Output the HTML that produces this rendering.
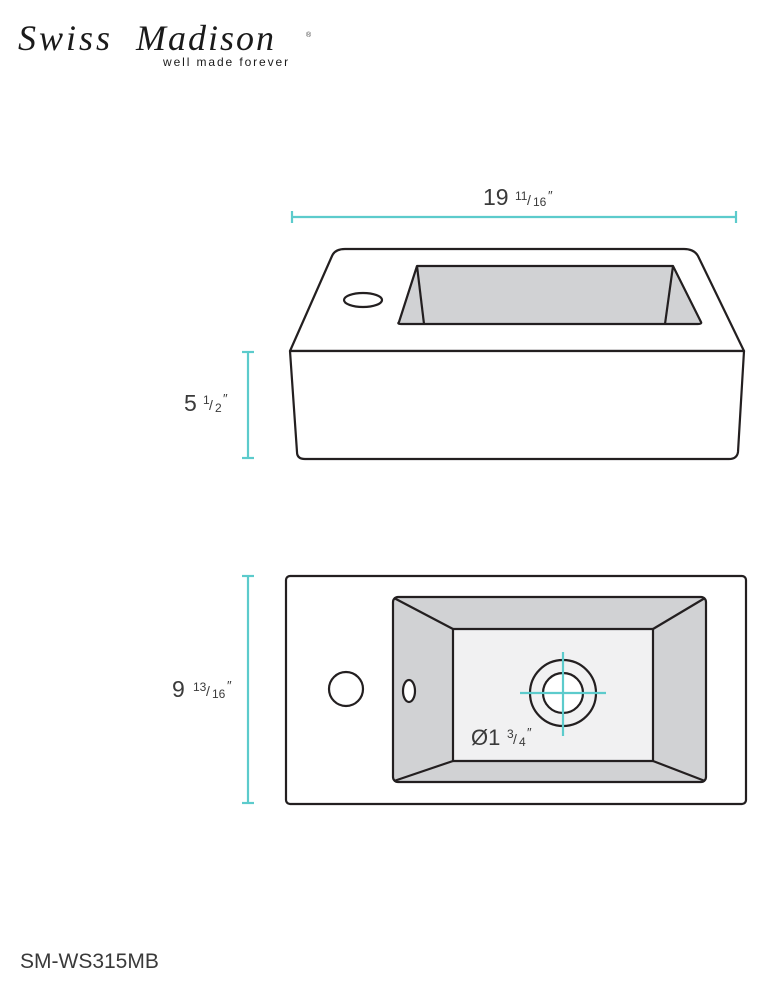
<!DOCTYPE html>
<html><head><meta charset="utf-8"><style>
html,body{margin:0;padding:0;background:#fff;}
svg{display:block;}
text{font-family:"Liberation Sans",sans-serif;fill:#3a3a3a;}
</style></head><body>
<svg width="766" height="990" viewBox="0 0 766 990" xmlns="http://www.w3.org/2000/svg">
<!-- logo -->
<text x="18" y="50" style="font-family:'Liberation Serif',serif;font-style:italic;font-size:36px;letter-spacing:3px;fill:#1a1a1a;">Swiss</text>
<text x="136" y="50" style="font-family:'Liberation Serif',serif;font-style:italic;font-size:36px;letter-spacing:2px;fill:#1a1a1a;">Madison</text>
<text x="306" y="37" style="font-size:7px;">®</text>
<text x="163" y="66" style="font-size:12px;letter-spacing:1.9px;fill:#1a1a1a;">well made forever</text>

<g stroke="#5ccbcc" stroke-width="2.2" fill="none">
<line x1="292" y1="217" x2="736" y2="217"/>
<line x1="292" y1="211" x2="292" y2="223"/>
<line x1="736" y1="211" x2="736" y2="223"/>
<line x1="248" y1="352" x2="248" y2="458"/>
<line x1="242" y1="352" x2="254" y2="352"/>
<line x1="242" y1="458" x2="254" y2="458"/>
<line x1="248" y1="576" x2="248" y2="803"/>
<line x1="242" y1="576" x2="254" y2="576"/>
<line x1="242" y1="803" x2="254" y2="803"/>
</g>

<text x="483" y="205" style="font-size:23px;">19</text>
<text x="515" y="200" style="font-size:12px;">11</text>
<text x="527" y="205" style="font-size:14px;">/</text>
<text x="533" y="206" style="font-size:12px;">16</text>
<text x="548" y="200" style="font-size:13px;">″</text>

<text x="184" y="411" style="font-size:23px;">5</text>
<text x="203" y="404" style="font-size:12px;">1</text>
<text x="209" y="410" style="font-size:14px;">/</text>
<text x="215" y="412" style="font-size:12px;">2</text>
<text x="223" y="403" style="font-size:13px;">″</text>

<text x="172" y="697" style="font-size:23px;">9</text>
<text x="193" y="691" style="font-size:12px;">13</text>
<text x="206" y="696" style="font-size:14px;">/</text>
<text x="212" y="698" style="font-size:12px;">16</text>
<text x="227" y="690" style="font-size:13px;">″</text>

<!-- side view -->
<g stroke="#231f20" stroke-width="2.2" fill="none" stroke-linejoin="round">
<path d="M290,351 L332,256 Q335,249 345,249 L684,249 Q694,249 698,256 L744,351 Z" fill="#fff"/>
<path d="M290,351 L744,351 L738,452 Q737,459 729,459 L305,459 Q297,459 297,452 Z" fill="#fff"/>
<path d="M399,322 L417,266 L673,266 L701,322 Q702,324 698,324 L401,324 Q397,324 399,322 Z" fill="#d1d2d4"/>
<line x1="417" y1="266" x2="424" y2="324"/>
<line x1="673" y1="266" x2="665" y2="324"/>
<ellipse cx="363" cy="300" rx="19" ry="7" fill="#fff"/>
</g>

<!-- top view -->
<g stroke="#231f20" stroke-width="2.2" stroke-linejoin="round">
<rect x="286" y="576" width="460" height="228" rx="4" fill="#fff"/>
<rect x="393" y="597" width="313" height="185" rx="5" fill="#d1d2d4"/>
<rect x="453" y="629" width="200" height="132" fill="#f1f1f2"/>
<line x1="394" y1="598" x2="453" y2="629" fill="none"/>
<line x1="705" y1="598" x2="653" y2="629" fill="none"/>
<line x1="394" y1="781" x2="453" y2="761" fill="none"/>
<line x1="705" y1="781" x2="653" y2="761" fill="none"/>
<circle cx="346" cy="689" r="17" fill="#fff"/>
<ellipse cx="409" cy="691" rx="6" ry="11" fill="#fff"/>
<circle cx="563" cy="693" r="33" fill="none"/>
<circle cx="563" cy="693" r="20" fill="#fff"/>
</g>
<g stroke="#5ccbcc" stroke-width="2.2">
<line x1="520" y1="693" x2="606" y2="693"/>
<line x1="563" y1="652" x2="563" y2="736"/>
</g>
<text x="471" y="745" style="font-size:22px;">Ø1</text>
<text x="507" y="738" style="font-size:12px;">3</text>
<text x="513" y="744" style="font-size:14px;">/</text>
<text x="519" y="746" style="font-size:12px;">4</text>
<text x="527" y="737" style="font-size:13px;">″</text>

<text x="20" y="968" style="font-size:21px;">SM-WS315MB</text>
</svg>
</body></html>
